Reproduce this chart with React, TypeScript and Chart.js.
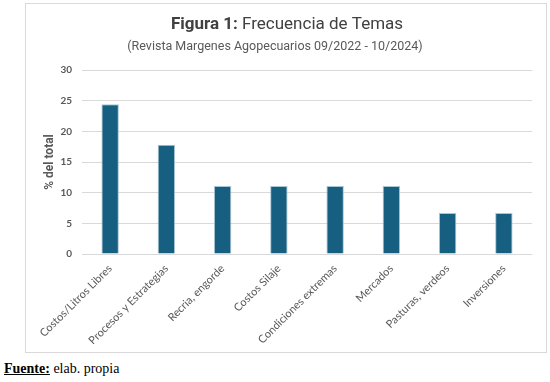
import React, { useEffect, useRef } from "react";
import { Chart, registerables } from "chart.js";

Chart.register(...registerables);

const categories = [
  "Costos/Litros Libres",
  "Procesos y Estrategias",
  "Recria, engorde",
  "Costos Silaje",
  "Condiciones extremas",
  "Mercados",
  "Pasturas, verdeos",
  "Inversiones",
];
const values = [24.4, 17.8, 11.1, 11.1, 11.1, 11.1, 6.7, 6.7];
const yTicks = [0, 5, 10, 15, 20, 25, 30];
const titleBold = "Figura 1:";
const titleRest = " Frecuencia de Temas";
const subtitle = "(Revista Margenes Agopecuarios 09/2022 - 10/2024)";
const yTitle = "% del total";

const titlePlugin = {
  id: "mixedTitle",
  afterDraw(chart: any) {
    const ctx = chart.ctx as CanvasRenderingContext2D;
    const cx = chart.width / 2 + 1;
    ctx.save();
    ctx.textBaseline = "alphabetic";
    ctx.fillStyle = "#404040";
    const fam = "'Liberation Sans Narrow', 'Roboto', sans-serif";
    ctx.font = `bold 17px ${fam}`;
    const w1 = ctx.measureText(titleBold).width;
    ctx.font = `17px ${fam}`;
    const w2 = ctx.measureText(titleRest).width;
    let x = cx - (w1 + w2) / 2;
    ctx.textAlign = "left";
    ctx.font = `bold 17px ${fam}`;
    ctx.fillText(titleBold, x, 25);
    ctx.font = `17px ${fam}`;
    ctx.fillText(titleRest, x + w1, 25);
    ctx.fillStyle = "#595959";
    ctx.font = `12.5px ${fam}`;
    ctx.textAlign = "center";
    ctx.fillText(subtitle, cx - 12, 46);
    ctx.restore();
  },
};

export default function App() {
  const ref = useRef<HTMLCanvasElement | null>(null);
  useEffect(() => {
    document.body.style.margin = "0";
    const chart = new Chart(ref.current!, {
      type: "bar",
      data: {
        labels: categories,
        datasets: [
          {
            data: values,
            backgroundColor: "#175f80",
            borderColor: "#a9c6d6",
            borderWidth: 1,
            barPercentage: 0.31,
            categoryPercentage: 1,
          },
        ],
      },
      options: {
        responsive: false,
        animation: false,
        layout: { padding: { top: 66, right: 14, left: 17, bottom: 0 } },
        plugins: { legend: { display: false }, tooltip: { enabled: false } },
        scales: {
          x: {
            grid: { display: false },
            border: { display: false },
            ticks: {
              maxRotation: 45,
              minRotation: 45,
              color: "#595959",
              font: { family: "Lato, sans-serif", size: 11 },
              padding: 0,
            },
            afterFit(scale: any) {
              scale.height = 98;
            },
          },
          y: {
            min: 0,
            max: 30,
            afterBuildTicks(scale: any) {
              scale.ticks = yTicks.map((v) => ({ value: v }));
            },
            grid: { color: "#d9d9d9", drawTicks: false, lineWidth: 1 },
            border: { display: false },
            ticks: {
              color: "#595959",
              padding: 10,
              font: { family: "Lato, sans-serif", size: 10, weight: "bold" },
            },
            title: {
              display: true,
              text: yTitle,
              color: "#595959",
              padding: { top: 0, bottom: 4 },
              font: { family: "'Liberation Sans Narrow', Roboto, sans-serif", size: 12, weight: "bold" },
            },
            afterFit(scale: any) {
              scale.width = 39;
            },
          },
        },
      },
      plugins: [titlePlugin],
    });
    return () => chart.destroy();
  }, []);

  return (
    <div style={{ position: "relative", width: 550, height: 382, background: "#fff" }}>
      <div
        style={{
          position: "absolute",
          left: 25,
          top: 3,
          width: 520,
          height: 348,
          border: "1px solid #d9d9d9",
          boxSizing: "content-box",
        }}
      >
        <canvas ref={ref} width={520} height={348} style={{ display: "block" }} />
      </div>
      <div
        style={{
          position: "absolute",
          left: 4,
          top: 361,
          fontFamily: "'Liberation Serif', 'Times New Roman', serif",
          fontSize: 14,
          color: "#000",
        }}
      >
        <b style={{ textDecoration: "underline" }}>Fuente:</b> elab. propia
      </div>
    </div>
  );
}
